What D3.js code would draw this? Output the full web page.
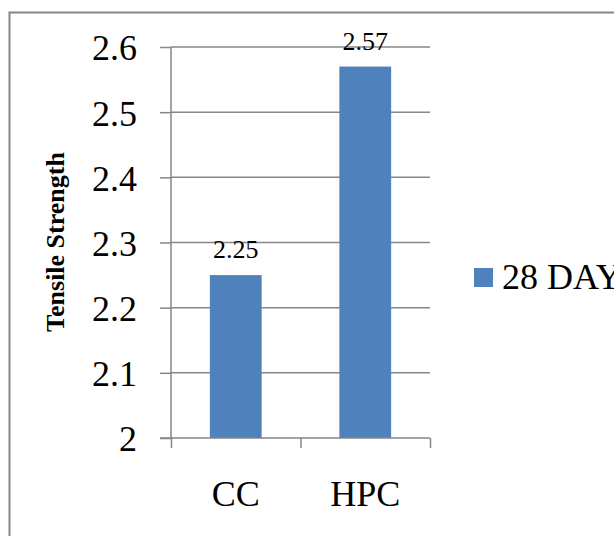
<!DOCTYPE html>
<html>
<head>
	<script src="https://cdn.jsdelivr.net/npm/d3@7"></script>
</head>
<style type="text/css">
	body { margin: 0; background: #ffffff; overflow: hidden; }
	.tick text { font-family: "Liberation Serif", "Times New Roman", serif; fill: #000; }
</style>
<body>
<div id=TensileGraph></div>
<script>

// chart data
var categories = ['CC', 'HPC'];
var values = [2.25, 2.57];
var valueLabels = ['2.25', '2.57'];
var yTicks = [2, 2.1, 2.2, 2.3, 2.4, 2.5, 2.6];
var seriesName = '28 DAYS';
var yTitle = 'Tensile Strength';

var W = 614, H = 536;
var plot = {left: 171, right: 430, top: 47, bottom: 438};
var serif = '"Liberation Serif", "Times New Roman", serif';
var gray = '#868686';
var blue = '#4f81bd';

var svg = d3.select('#TensileGraph')
	.append('svg')
	.attr('width', W)
	.attr('height', H);

// outer frame
svg.append('rect')
	.attr('x', 9.5).attr('y', 12.5)
	.attr('width', 700).attr('height', 600)
	.attr('fill', 'none')
	.attr('stroke', gray)
	.attr('stroke-width', 2);

var x = d3.scaleBand()
	.domain(categories)
	.range([plot.left, plot.right])
	.paddingInner(0.6)
	.paddingOuter(0.3);

var y = d3.scaleLinear()
	.domain([2, 2.6])
	.range([plot.bottom, plot.top]);

// gridlines
svg.append('g')
	.selectAll('line')
	.data(yTicks.slice(1))
	.enter().append('line')
	.attr('x1', plot.left).attr('x2', plot.right)
	.attr('y1', function(d) { return y(d); })
	.attr('y2', function(d) { return y(d); })
	.attr('stroke', gray)
	.attr('stroke-width', 1.5);

// bars
svg.append('g')
	.selectAll('rect')
	.data(values)
	.enter().append('rect')
	.attr('x', function(d, i) { return x(categories[i]); })
	.attr('width', x.bandwidth())
	.attr('y', function(d) { return y(d); })
	.attr('height', function(d) { return y(2) - y(d); })
	.attr('fill', blue);

// value labels
svg.append('g')
	.selectAll('text')
	.data(values)
	.enter().append('text')
	.attr('x', function(d, i) { return x(categories[i]) + x.bandwidth() / 2; })
	.attr('y', function(d) { return y(d) - 17; })
	.attr('text-anchor', 'middle')
	.attr('font-family', serif)
	.attr('font-size', 26)
	.text(function(d, i) { return valueLabels[i]; });

// Y axis
var yAxis = svg.append('g')
	.attr('transform', 'translate(' + plot.left + ',0)')
	.call(d3.axisLeft(y).tickValues(yTicks).tickSize(11).tickPadding(23)
		.tickFormat(function(d) { return d3.format('')(+d.toFixed(1)); }));
yAxis.select('.domain').remove();
yAxis.selectAll('.tick line').attr('stroke', gray).attr('stroke-width', 1.5);
yAxis.selectAll('.tick text').attr('font-size', 36).attr('dy', '0.36em');
svg.append('line')
	.attr('x1', plot.left).attr('x2', plot.left)
	.attr('y1', plot.top).attr('y2', plot.bottom)
	.attr('stroke', gray).attr('stroke-width', 1.5);

// X axis
var x2 = d3.scalePoint().domain([0, 1, 2]).range([plot.left, plot.right]);
var xAxis = svg.append('g')
	.attr('transform', 'translate(0,' + plot.bottom + ')')
	.call(d3.axisBottom(x2).tickSize(10).tickFormat(''));
xAxis.select('.domain').remove();
xAxis.selectAll('.tick line').attr('stroke', gray).attr('stroke-width', 1.5);
svg.append('line')
	.attr('x1', plot.left - 11).attr('x2', plot.right)
	.attr('y1', plot.bottom).attr('y2', plot.bottom)
	.attr('stroke', gray).attr('stroke-width', 1.5);

svg.append('g')
	.selectAll('text')
	.data(categories)
	.enter().append('text')
	.attr('x', function(d) { return x(d) + x.bandwidth() / 2; })
	.attr('y', 506)
	.attr('text-anchor', 'middle')
	.attr('font-family', serif)
	.attr('font-size', 36)
	.text(function(d) { return d; });

// Y title
svg.append('text')
	.attr('transform', 'translate(64,' + 242 + ') rotate(-90)')
	.attr('text-anchor', 'middle')
	.attr('font-family', serif)
	.attr('font-weight', 'bold')
	.attr('font-size', 26)
	.text(yTitle);

// legend
svg.append('rect')
	.attr('x', 474).attr('y', 268)
	.attr('width', 19).attr('height', 19)
	.attr('fill', blue);
svg.append('text')
	.attr('x', 502).attr('y', 289)
	.attr('font-family', serif)
	.attr('font-size', 36)
	.text(seriesName);

</script>
</body>
</html>
